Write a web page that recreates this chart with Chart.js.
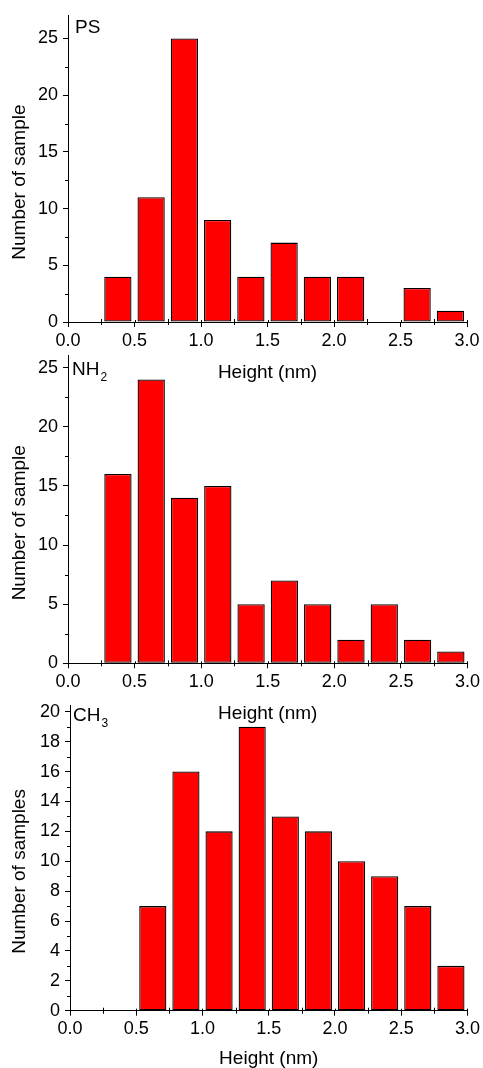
<!DOCTYPE html>
<html>
<head>
<meta charset="utf-8">
<script src="https://cdn.jsdelivr.net/npm/chart.js@4.4.1/dist/chart.umd.min.js"></script>
<style>
  html, body { margin: 0; padding: 0; background: #fff; overflow: hidden; }
  body { width: 483px; height: 1068px; position: relative; font-family: 'Liberation Sans', Arial, sans-serif; }
  .panel { position: absolute; left: 0; }
  .tag { position: absolute; font-size: 19px; line-height: 19px; color: #000; white-space: nowrap; }
  .tag sub { font-size: 12px; vertical-align: -6px; line-height: 0; margin-left: 1px; }
</style>
</head>
<body>
<div class="panel" style="top:0"><canvas id="psChart" width="483" height="382"></canvas></div>
<div class="panel" style="top:340px"><canvas id="nh2Chart" width="483" height="383"></canvas></div>
<div class="panel" style="top:690px"><canvas id="ch3Chart" width="483" height="378"></canvas></div>
<div class="tag" style="left:75px;top:17px">PS</div>
<div class="tag" style="left:72px;top:359px">NH<sub>2</sub></div>
<div class="tag" style="left:73px;top:705px">CH<sub>3</sub></div>
<script>
// bin centres of the height histograms (nm), bins are 0.25 nm wide
const binCenters = [0.375, 0.625, 0.875, 1.125, 1.375, 1.625, 1.875, 2.125, 2.375, 2.625, 2.875];
const psCounts  = [4, 11, 25, 9, 4, 7, 4, 4, null, 3, 1];
const nh2Counts = [16, 24, 14, 15, 5, 7, 5, 2, 5, 2, 1];
const ch3Counts = [null, 7, 16, 12, 19, 13, 12, 10, 9, 7, 3];

const xTicks = [0, 0.5, 1, 1.5, 2, 2.5, 3];
const xMinorTicks = [0.25, 0.75, 1.25, 1.75, 2.25, 2.75];
const countTicks = [0, 5, 10, 15, 20, 25];
const countMinorTicks = [2.5, 7.5, 12.5, 17.5, 22.5];
const ch3Ticks = [0, 2, 4, 6, 8, 10, 12, 14, 16, 18, 20];
const ch3MinorTicks = [1, 3, 5, 7, 9, 11, 13, 15, 17, 19];

Chart.defaults.font.family = "'Liberation Sans', Arial, sans-serif";
Chart.defaults.color = '#000';

// small minor ticks like the Origin plot
const minorTicks = {
  id: 'minorTicks',
  afterDraw(chart, args, opts) {
    const { ctx, scales: { x, y } } = chart;
    ctx.save();
    ctx.strokeStyle = '#000';
    ctx.lineWidth = 1;
    ctx.beginPath();
    (opts.x || []).forEach(v => {
      const px = Math.round(x.getPixelForValue(v)) + 0.5;
      ctx.moveTo(px, y.bottom - 3);
      ctx.lineTo(px, y.bottom + 3);
    });
    xTicks.forEach(v => {
      const px = Math.round(x.getPixelForValue(v)) + 0.5;
      ctx.moveTo(px, y.bottom - 2);
      ctx.lineTo(px, y.bottom);
    });
    (opts.y || []).forEach(v => {
      const py = Math.round(y.getPixelForValue(v)) + 0.5;
      ctx.moveTo(x.left - 3, py);
      ctx.lineTo(x.left, py);
    });
    ctx.stroke();
    ctx.restore();
  }
};

function histogram(id, counts, cfg) {
  const axisGrid = { display: true, drawOnChartArea: false, drawTicks: true, tickLength: 5, color: '#000', offset: false };
  const axisBorder = { display: true, color: '#000', width: 1 };
  return new Chart(document.getElementById(id), {
    type: 'bar',
    data: {
      datasets: [{
        data: binCenters.map((x, i) => ({ x: x, y: counts[i] })),
        backgroundColor: '#ff0000',
        borderColor: '#000',
        borderWidth: 1.3,
        borderSkipped: false,
        barPercentage: 0.82,
        categoryPercentage: 1
      }]
    },
    options: {
      responsive: false,
      animation: false,
      events: [],
      layout: { padding: { top: cfg.top, right: cfg.right, left: 0, bottom: 0 } },
      plugins: {
        legend: { display: false },
        tooltip: { enabled: false },
        minorTicks: { x: xMinorTicks, y: cfg.yMinor }
      },
      scales: {
        x: {
          type: 'linear', min: 0, max: 3, offset: false,
          afterBuildTicks: s => { s.ticks = xTicks.map(v => ({ value: v })); },
          afterFit: s => { s.height = cfg.xHeight; },
          grid: axisGrid,
          border: axisBorder,
          ticks: { font: { size: 18 }, padding: 3, maxRotation: 0, callback: v => v.toFixed(1) },
          title: { display: true, text: 'Height (nm)', font: { size: 19, lineHeight: 1 }, padding: { top: 0, bottom: 0 } }
        },
        y: {
          min: 0, max: cfg.yMax,
          afterBuildTicks: s => { s.ticks = cfg.yTicks.map(v => ({ value: v })); },
          afterFit: s => { s.width = cfg.yWidth; },
          grid: axisGrid,
          border: axisBorder,
          ticks: { font: { size: 18 }, padding: 5 },
          // trailing spaces push the rotated title a little lower, as in the original
          title: { display: true, text: cfg.yTitle + '     ', font: { size: 19, lineHeight: 1 }, padding: { top: 10, bottom: 0 } }
        }
      }
    },
    plugins: [minorTicks]
  });
}

histogram('psChart', psCounts, {
  top: 13, right: 16, xHeight: 60, yWidth: 68, yMax: 27,
  yTicks: countTicks, yMinor: countMinorTicks, yTitle: 'Number of sample'
});
histogram('nh2Chart', nh2Counts, {
  top: 15, right: 15, xHeight: 59.7, yWidth: 68, yMax: 26,
  yTicks: countTicks, yMinor: countMinorTicks, yTitle: 'Number of sample'
});
histogram('ch3Chart', ch3Counts, {
  top: 13, right: 14, xHeight: 57.3, yWidth: 70, yMax: 20.4,
  yTicks: ch3Ticks, yMinor: ch3MinorTicks, yTitle: 'Number of samples'
});
</script>
</body>
</html>
